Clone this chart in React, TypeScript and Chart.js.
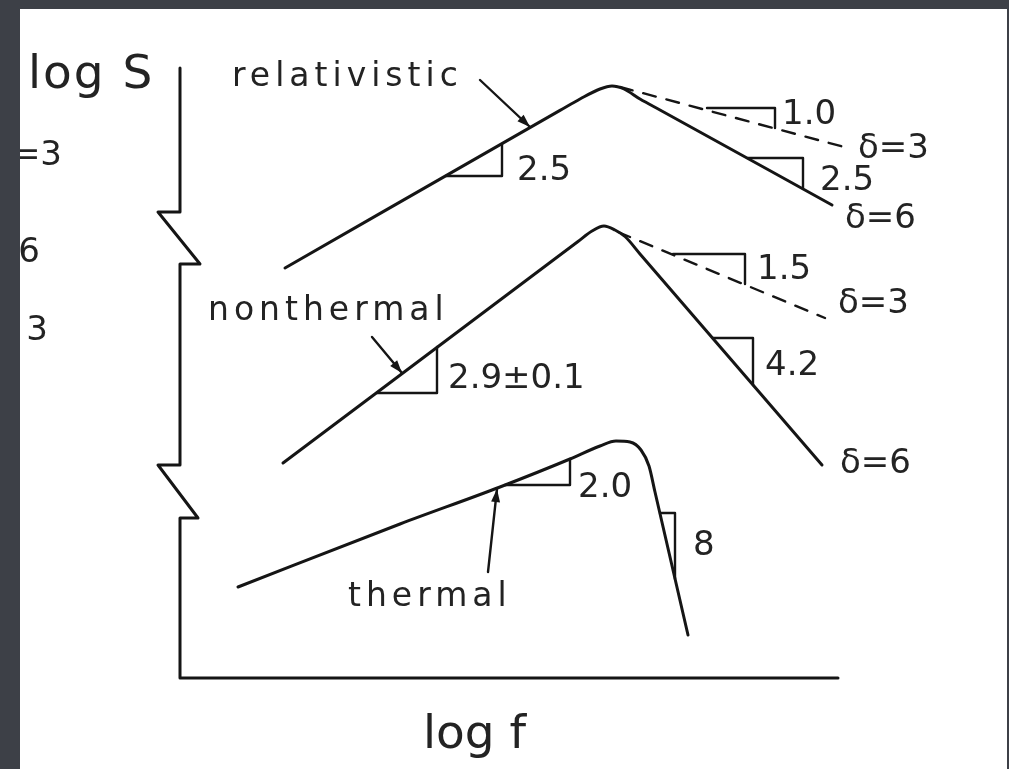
import { useEffect, useRef } from "react";
import { Chart, registerables } from "chart.js";

Chart.register(...registerables);

// Canvas size and the white sheet the diagram is printed on
const W = 1009;
const H = 769;
const SHEET = { left: 20, top: 9, right: 1007, bottom: 769 };

// Data space: origin at the axis corner, units of log f / log S (arbitrary)
const X_MIN = -1.8;
const X_MAX = 8.29;
const Y_MIN = -0.91;
const Y_MAX = 6.78;

// Axis frame with two break marks on the log S axis
const AXIS_X = [0, 0, -0.22, 0.2, 0, 0, -0.22, 0.18, 0, 0, 6.58];
const AXIS_Y = [6.1, 4.66, 4.66, 4.14, 4.14, 2.13, 2.13, 1.6, 1.6, 0, 0];

// Relativistic spectrum (delta = 6 solid, delta = 3 dashed)
const REL_X = [1.05, 3.8, 4.0, 4.2, 4.32, 4.44, 4.6, 4.8, 6.52];
const REL_Y = [4.1, 5.676, 5.79, 5.89, 5.92, 5.89, 5.79, 5.68, 4.73];
const REL_DASH_X = [4.4, 6.68];
const REL_DASH_Y = [5.91, 5.3];

// Nonthermal spectrum (delta = 6 solid, delta = 3 dashed)
const NT_X = [1.03, 3.8, 3.98, 4.12, 4.24, 4.35, 4.45, 4.6, 6.42];
const NT_Y = [2.15, 4.23, 4.365, 4.47, 4.52, 4.48, 4.415, 4.241, 2.13];
const NT_DASH_X = [4.38, 6.45];
const NT_DASH_Y = [4.46, 3.6];

// Thermal spectrum
const TH_X = [0.58, 2.2, 3.2, 3.9, 4.2, 4.36, 4.5, 4.61, 4.69, 4.75, 5.08];
const TH_Y = [0.91, 1.54, 1.91, 2.19, 2.32, 2.37, 2.36, 2.28, 2.12, 1.86, 0.43];

// Slope triangles: point on curve, corner, point on curve
const TRI_REL_RISE_X = [2.66, 3.22, 3.22];
const TRI_REL_RISE_Y = [5.02, 5.02, 5.34];
const TRI_REL_DASH_X = [5.27, 5.95, 5.95];
const TRI_REL_DASH_Y = [5.7, 5.7, 5.5];
const TRI_REL_FALL_X = [5.68, 6.23, 6.23];
const TRI_REL_FALL_Y = [5.2, 5.2, 4.9];
const TRI_NT_RISE_X = [1.97, 2.57, 2.57];
const TRI_NT_RISE_Y = [2.85, 2.85, 3.31];
const TRI_NT_DASH_X = [4.93, 5.65, 5.65];
const TRI_NT_DASH_Y = [4.24, 4.24, 3.94];
const TRI_NT_FALL_X = [5.33, 5.73, 5.73];
const TRI_NT_FALL_Y = [3.4, 3.4, 2.93];
const TRI_TH_RISE_X = [3.25, 3.9, 3.9];
const TRI_TH_RISE_Y = [1.93, 1.93, 2.19];
const TRI_TH_FALL_X = [4.8, 4.95, 4.95];
const TRI_TH_FALL_Y = [1.65, 1.65, 0.99];

// Pointer arrows from the curve names to the curves
const ARROW_REL_X = [3.0, 3.5];
const ARROW_REL_Y = [5.98, 5.51];
const ARROW_NT_X = [1.92, 2.22];
const ARROW_NT_Y = [3.41, 3.05];
const ARROW_TH_X = [3.08, 3.17];
const ARROW_TH_Y = [1.06, 1.89];

// Annotation texts and their anchors (data units)
const LABEL_TEXT = [
  "log S", "relativistic", "nonthermal", "thermal", "log f",
  "2.5", "1.0", "δ=3", "2.5", "δ=6",
  "1.5", "δ=3", "4.2", "2.9±0.1", "δ=6",
  "2.0", "8",
  "δ=3", "δ=6", "δ = 3",
];
const LABEL_X = [
  -1.52, 0.52, 0.28, 1.68, 2.43,
  3.37, 6.02, 6.78, 6.4, 6.65,
  5.77, 6.58, 5.85, 2.68, 6.6,
  3.98, 5.13,
  -1.18, -1.4, -1.32,
];
const LABEL_Y = [
  5.9, 5.92, 3.58, 0.72, -0.7,
  4.98, 5.54, 5.2, 4.88, 4.5,
  3.99, 3.65, 3.03, 2.9, 2.05,
  1.81, 1.23,
  5.13, 4.16, 3.38,
];
const LABEL_KIND = [
  "axisY", "name", "name", "name", "axisX",
  "value", "value", "value", "value", "value",
  "value", "value", "value", "value", "value",
  "value", "value",
  "edge", "edge", "edge",
];

const INK = "#151515";
const TEXT_INK = "#232323";
const BACKDROP = "#3d4047";

const pts = (xs: number[], ys: number[]) => xs.map((x, i) => ({ x, y: ys[i] }));

const curve = (xs: number[], ys: number[], smooth: boolean) => ({
  data: pts(xs, ys),
  showLine: true,
  borderColor: INK,
  borderWidth: 3,
  pointRadius: 0,
  fill: false,
  tension: smooth ? 0.4 : 0,
  cubicInterpolationMode: smooth ? "monotone" : "default",
});

const dashed = (xs: number[], ys: number[]) => ({
  ...curve(xs, ys, false),
  borderWidth: 2.4,
  borderDash: [13, 11],
});

const thin = (xs: number[], ys: number[]) => ({
  ...curve(xs, ys, false),
  borderWidth: 2.4,
});

const arrow = (xs: number[], ys: number[]) => ({
  ...curve(xs, ys, false),
  borderWidth: 2.4,
  isArrow: true,
});

const sheetPlugin = {
  id: "sheet",
  beforeDraw(chart: any) {
    const { ctx } = chart;
    ctx.save();
    ctx.fillStyle = BACKDROP;
    ctx.fillRect(0, 0, W, H);
    ctx.fillStyle = "#ffffff";
    ctx.fillRect(SHEET.left, SHEET.top, SHEET.right - SHEET.left, SHEET.bottom - SHEET.top);
    ctx.restore();
  },
};

const FONT_BY_KIND: Record<string, [string, string]> = {
  axisY: ['47px "DejaVu Sans"', "2px"],
  axisX: ['47px "DejaVu Sans"', "0px"],
  name: ['33px "DejaVu Sans"', "5px"],
  value: ['34px "DejaVu Sans"', "0px"],
  edge: ['34px "DejaVu Sans"', "0px"],
};

const annotationPlugin = {
  id: "annotations",
  afterDatasetsDraw(chart: any) {
    const { ctx, scales } = chart;
    const sx = scales.x;
    const sy = scales.y;

    // arrowheads at the end of each pointer
    chart.data.datasets.forEach((ds: any) => {
      if (!ds.isArrow) return;
      const n = ds.data.length;
      const x1 = sx.getPixelForValue(ds.data[n - 2].x);
      const y1 = sy.getPixelForValue(ds.data[n - 2].y);
      const x2 = sx.getPixelForValue(ds.data[n - 1].x);
      const y2 = sy.getPixelForValue(ds.data[n - 1].y);
      const a = Math.atan2(y2 - y1, x2 - x1);
      const len = 13;
      const half = 4.5;
      ctx.save();
      ctx.fillStyle = INK;
      ctx.beginPath();
      ctx.moveTo(x2, y2);
      ctx.lineTo(x2 - len * Math.cos(a) + half * Math.sin(a), y2 - len * Math.sin(a) - half * Math.cos(a));
      ctx.lineTo(x2 - len * Math.cos(a) - half * Math.sin(a), y2 - len * Math.sin(a) + half * Math.cos(a));
      ctx.closePath();
      ctx.fill();
      ctx.restore();
    });

    ctx.save();
    ctx.beginPath();
    ctx.rect(SHEET.left, SHEET.top, SHEET.right - SHEET.left, SHEET.bottom - SHEET.top);
    ctx.clip();
    ctx.fillStyle = TEXT_INK;
    ctx.textBaseline = "alphabetic";
    LABEL_TEXT.forEach((text, i) => {
      const kind = LABEL_KIND[i];
      const [font, spacing] = FONT_BY_KIND[kind];
      ctx.font = font;
      (ctx as any).letterSpacing = spacing;
      ctx.textAlign = kind === "edge" ? "right" : "left";
      ctx.fillText(text, sx.getPixelForValue(LABEL_X[i]), sy.getPixelForValue(LABEL_Y[i]));
    });
    ctx.restore();
  },
};

export default function App() {
  const ref = useRef<HTMLCanvasElement | null>(null);

  useEffect(() => {
    if (!ref.current) return;
    const chart = new Chart(ref.current, {
      type: "scatter",
      data: {
        datasets: [
          curve(AXIS_X, AXIS_Y, false),
          curve(REL_X, REL_Y, true),
          dashed(REL_DASH_X, REL_DASH_Y),
          curve(NT_X, NT_Y, true),
          dashed(NT_DASH_X, NT_DASH_Y),
          curve(TH_X, TH_Y, true),
          thin(TRI_REL_RISE_X, TRI_REL_RISE_Y),
          thin(TRI_REL_DASH_X, TRI_REL_DASH_Y),
          thin(TRI_REL_FALL_X, TRI_REL_FALL_Y),
          thin(TRI_NT_RISE_X, TRI_NT_RISE_Y),
          thin(TRI_NT_DASH_X, TRI_NT_DASH_Y),
          thin(TRI_NT_FALL_X, TRI_NT_FALL_Y),
          thin(TRI_TH_RISE_X, TRI_TH_RISE_Y),
          thin(TRI_TH_FALL_X, TRI_TH_FALL_Y),
          arrow(ARROW_REL_X, ARROW_REL_Y),
          arrow(ARROW_NT_X, ARROW_NT_Y),
          arrow(ARROW_TH_X, ARROW_TH_Y),
        ] as any,
      },
      options: {
        responsive: false,
        animation: false,
        layout: { padding: 0 },
        plugins: {
          legend: { display: false },
          tooltip: { enabled: false },
        },
        elements: { line: { borderCapStyle: "round", borderJoinStyle: "round" } },
        scales: {
          x: { type: "linear", min: X_MIN, max: X_MAX, display: false },
          y: { type: "linear", min: Y_MIN, max: Y_MAX, display: false },
        },
      },
      plugins: [sheetPlugin, annotationPlugin],
    });
    return () => chart.destroy();
  }, []);

  return (
    <div style={{ position: "fixed", left: 0, top: 0, width: W, height: H, background: BACKDROP }}>
      <canvas ref={ref} width={W} height={H} style={{ display: "block" }} />
    </div>
  );
}
